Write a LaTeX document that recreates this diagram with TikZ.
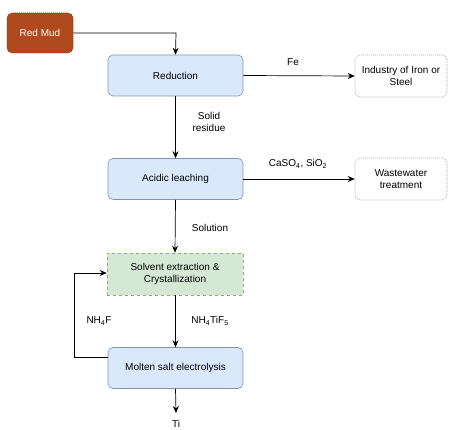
\documentclass[tikz,border=0pt]{standalone}
\usepackage{fontspec}
\setmainfont{Liberation Sans}
\usetikzlibrary{arrows.meta}
\definecolor{bluefill}{HTML}{DAE8FC}
\definecolor{blueline}{HTML}{7C95B8}
\definecolor{greenfill}{HTML}{D5E8D4}
\definecolor{greenline}{HTML}{82B366}
\definecolor{mudfill}{HTML}{B04A1E}
\definecolor{mudline}{HTML}{8A3212}
\tikzset{
  proc/.style={draw=blueline, fill=bluefill, rounded corners=5pt, minimum width=135pt, minimum height=41pt, align=center, font=\fontsize{10}{12}\selectfont, line width=0.6pt},
  greenbox/.style={draw=greenline, fill=greenfill, dashed, minimum width=136pt, minimum height=42pt, align=center, font=\fontsize{10}{12}\selectfont, line width=0.6pt},
  outbox/.style={draw=gray!70, dash pattern=on 1pt off 1pt, rounded corners=5pt, minimum width=92pt, minimum height=42pt, align=center, font=\fontsize{10}{12}\selectfont, line width=0.6pt},
  mud/.style={draw=mudline, fill=mudfill, dash pattern=on 1pt off 1pt, rounded corners=5pt, minimum width=66pt, minimum height=40pt, text=white, font=\fontsize{10}{12}\selectfont, line width=0.6pt},
  lbl/.style={font=\fontsize{10}{12}\selectfont, align=center},
  arr/.style={-{Stealth[length=7pt,width=6pt]}, line width=0.7pt},
}
\begin{document}
\begin{tikzpicture}[x=1pt,y=-1pt]
\useasboundingbox (0,0) rectangle (449,430);
\node[mud] (mud) at (40,33) {Red Mud};
\node[proc] (red) at (175.5,75.5) {Reduction};
\node[proc] (acid) at (175.5,179) {Acidic leaching};
\node[greenbox] (solv) at (175,274) {Solvent extraction \&\\Crystallization};
\node[proc] (molt) at (175.5,368) {Molten salt electrolysis};
\node[outbox] (iron) at (401,76) {Industry of Iron or\\Steel};
\node[outbox] (waste) at (401,179) {Wastewater\\treatment};
\node[lbl] (ti) at (176,424) {Ti};
\coordinate (tiend) at (176,413);
\coordinate (corner) at (176,33);
\coordinate (loopb) at (74,357);
\coordinate (loopt) at (74,273);

\draw[arr] (mud.east) -- (corner) -- (red.north);
\draw[arr] (red.south) -- (acid.north);
\draw[arr] (acid.south) -- (solv.north);
\draw[arr] (solv.south -| molt.north) -- (molt.north);
\draw[arr] (molt.south) -- (tiend);
\draw[arr] (red.east) -- (iron.west);
\draw[arr] (acid.east) -- (waste.west);
\draw[arr] (molt.west |- loopb) -- (loopb) -- (loopt) -- (solv.west |- loopt);

\node[lbl] (fe) at (293,62) {Fe};
\node[lbl] (caso) at (298,164) {CaSO\textsubscript{4}, SiO\textsubscript{2}};
\node[lbl] (solid) at (209,122) {Solid\\residue};
\node[lbl] (soln) at (210,228) {Solution};
\node[lbl] (nhf) at (99,321) {NH\textsubscript{4}F};
\node[lbl] (nhti) at (210,321) {NH\textsubscript{4}TiF\textsubscript{5}};
\end{tikzpicture}
\end{document}
